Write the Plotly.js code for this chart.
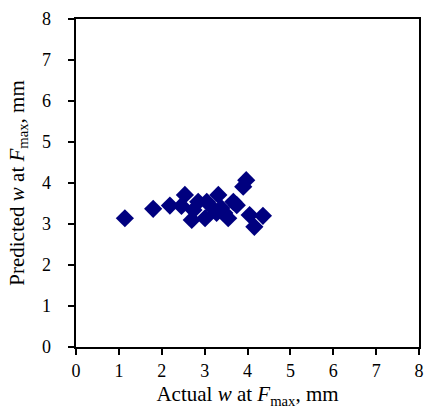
<!DOCTYPE html>
<html><head><meta charset="utf-8">
<script src="https://cdn.plot.ly/plotly-3.0.1.min.js"></script>
<style>body{margin:0;padding:0;background:#fff}</style>
</head><body>
<div id="chart" style="width:425px;height:413px"></div>
<script>
const actualW = [1.14, 1.80, 2.19, 2.46, 2.54, 2.70, 2.74, 2.85, 3.01, 3.05, 3.23, 3.28, 3.32, 3.39, 3.46, 3.55, 3.67, 3.75, 3.90, 3.97, 4.05, 4.16, 4.36];
const predictedW = [3.14, 3.37, 3.45, 3.44, 3.71, 3.10, 3.34, 3.54, 3.14, 3.54, 3.34, 3.27, 3.71, 3.39, 3.27, 3.14, 3.54, 3.46, 3.91, 4.07, 3.22, 2.93, 3.20];
const tickVals = [0, 1, 2, 3, 4, 5, 6, 7, 8];
const tickLabels = ['0', '1', '2', '3', '4', '5', '6', '7', '8'];
const axisRange = [0, 8];

const font = {family: 'Liberation Serif, Times New Roman, serif', color: '#000'};
const axisCommon = {
  range: axisRange, tickvals: tickVals,
  showgrid: false, zeroline: false, showline: true, linecolor: '#000', linewidth: 2,
  mirror: true, ticks: 'outside', ticklen: 6, tickwidth: 2, tickcolor: '#000',
  tickfont: Object.assign({size: 18}, font)
};
Plotly.newPlot('chart', [{
  x: actualW, y: predictedW, type: 'scatter', mode: 'markers',
  marker: {symbol: 'diamond', size: 14, color: '#00007f'}
}], {
  width: 425, height: 413,
  margin: {l: 76, r: 6, t: 19, b: 66},
  paper_bgcolor: '#fff', plot_bgcolor: '#fff', showlegend: false,
  font: font,
  xaxis: Object.assign({}, axisCommon, {ticktext: tickLabels,
    title: {text: 'Actual <i>w</i> at <i>F</i><sub>max</sub>, mm', font: Object.assign({size: 21}, font), standoff: 7}}),
  yaxis: Object.assign({}, axisCommon, {ticktext: tickLabels.map(t => t + '\u00a0\u00a0\u00a0'),
    title: {text: 'Predicted <i>w</i> at <i>F</i><sub>max</sub>, mm', font: Object.assign({size: 21}, font), standoff: 12}})
}, {staticPlot: true});
</script>
</body></html>
